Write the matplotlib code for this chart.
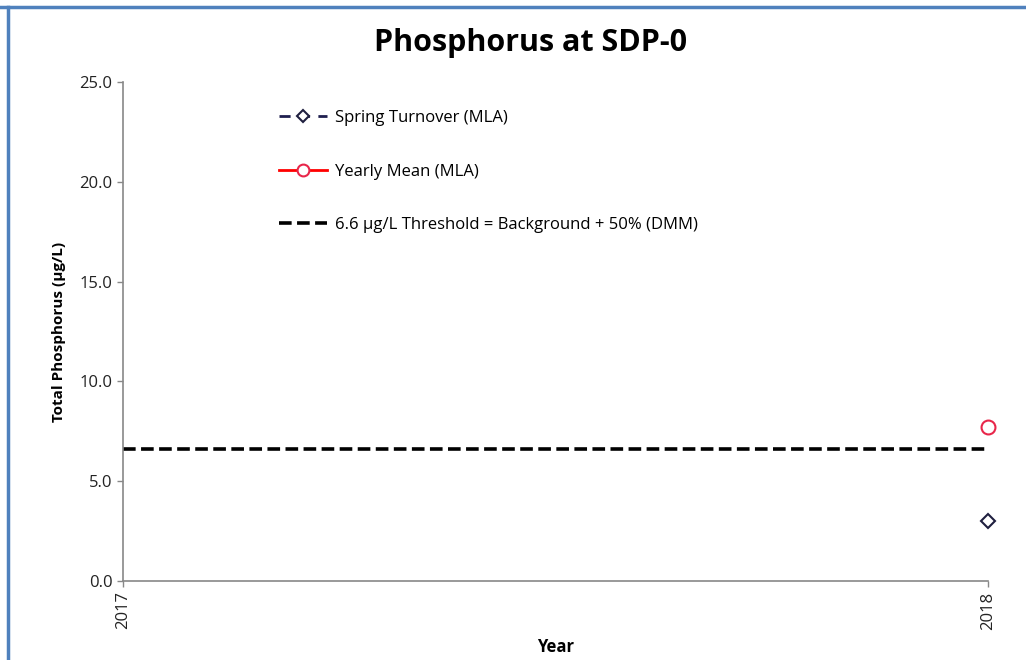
import matplotlib.pyplot as plt
from matplotlib.lines import Line2D

plt.rcParams['font.family'] = ['Open Sans', 'DejaVu Sans']

years = [2017, 2018]
spring_years = [2018]
spring_tp = [3.0]
mean_years = [2018]
mean_tp = [7.7]
threshold = [6.6, 6.6]

fig = plt.figure(figsize=(10.26, 6.6), dpi=100)
ax = fig.add_axes([0.1199, 0.1197, 0.963 - 0.1199, 0.8758 - 0.1197])

ax.plot(spring_years, spring_tp, ls=(0, (4, 3)), color='#1f1f4f', lw=2,
        marker='D', ms=7, mfc='white', mec='#1f1f3f', mew=1.5, clip_on=False,
        label='Spring Turnover (MLA)')
ax.plot(mean_years, mean_tp, ls='-', color='red', lw=2,
        marker='o', ms=10, mfc='white', mec='#e8264a', mew=1.5, clip_on=False,
        label='Yearly Mean (MLA)')
ax.plot(years, threshold, ls=(0, (3.5, 1.5)), color='black', lw=2.6,
        label='6.6 µg/L Threshold = Background + 50% (DMM)')

ax.set_xlim(2017, 2018.0001)
ax.set_ylim(0, 25)
ax.set_yticks([0, 5, 10, 15, 20, 25])
ax.set_yticklabels([f'{v:.1f}' for v in [0, 5, 10, 15, 20, 25]], fontsize=12, color='#222222')
ax.set_xticks(years)
ax.set_xticklabels([str(y) for y in years], rotation=90, fontsize=12, color='#222222')
ax.tick_params(axis='both', length=4, color='#888888', width=1)
for s in ['top', 'right']:
    ax.spines[s].set_visible(False)
for s in ['left', 'bottom']:
    ax.spines[s].set_color('#888888')
    ax.spines[s].set_linewidth(1.2)

ax.set_ylabel('Total Phosphorus (µg/L)', fontsize=11, fontweight='bold', labelpad=10)
ax.set_xlabel('Year', fontsize=12, fontweight='bold', labelpad=6)
fig.text(0.517, 0.935, 'Phosphorus at SDP-0', ha='center', va='center',
         fontsize=22, fontweight='bold')

ax.legend(loc='upper left', bbox_to_anchor=(0.265, 0.843), bbox_transform=fig.transFigure,
          frameon=False, fontsize=12, labelspacing=2.25, handlelength=2.9,
          handletextpad=0.5, borderaxespad=0, markerscale=0.85)

fig.add_artist(Line2D([0, 1], [1 - 7 / 660, 1 - 7 / 660], transform=fig.transFigure,
                      color='#4f81bd', lw=2.5))
fig.add_artist(Line2D([8 / 1026, 8 / 1026], [0, 1 - 7 / 660], transform=fig.transFigure,
                      color='#4f81bd', lw=2.5))

fig.savefig('out.png', dpi=100)
